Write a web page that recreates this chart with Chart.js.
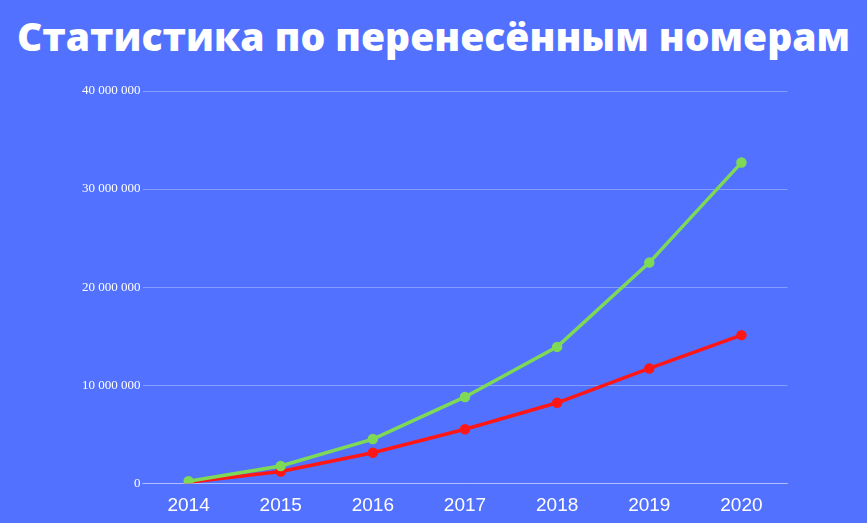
<!DOCTYPE html>
<html lang="ru">
<head>
<meta charset="UTF-8">
<title>Статистика по перенесённым номерам</title>
<script src="https://cdn.jsdelivr.net/npm/chart.js"></script>
<style>
  html, body { margin: 0; padding: 0; background: #5271ff; }
  body { width: 867px; height: 523px; overflow: hidden; }
  h1 { margin: 0; height: 72px; line-height: 72px; text-align: center; color: #fff;
       font-family: "Open Sans", sans-serif; font-weight: 800; font-size: 39px; }
  .box { position: absolute; left: 0; top: 72px; width: 795px; height: 448px; }
</style>
</head>
<body>
<h1>Статистика по перенесённым номерам</h1>
<div class="box"><canvas id="c"></canvas></div>
<script>
const years = ['2014', '2015', '2016', '2017', '2018', '2019', '2020'];
const greenValues = [200000, 1750000, 4500000, 8800000, 13900000, 22500000, 32700000];
const redValues = [100000, 1200000, 3100000, 5500000, 8200000, 11700000, 15100000];
const yTicks = [0, 10000000, 20000000, 30000000, 40000000];

const fmt = v => v === 0 ? '0' : v.toLocaleString('ru-RU').replace(/\s/g, ' ');

new Chart(document.getElementById('c'), {
  type: 'line',
  data: {
    labels: years,
    datasets: [
      { data: greenValues, borderColor: '#7ed957', backgroundColor: '#7ed957', borderWidth: 3.5, pointRadius: 3.5 },
      { data: redValues, borderColor: '#ff1616', backgroundColor: '#ff1616', borderWidth: 3.5, pointRadius: 3.5 }
    ]
  },
  options: {
    responsive: true,
    maintainAspectRatio: false,
    animation: false,
    layout: { padding: { left: 80, top: 19, bottom: 0 } },
    plugins: { legend: { display: false }, tooltip: { enabled: false } },
    scales: {
      x: {
        offset: true,
        grid: { display: false },
        border: { color: 'rgba(255,255,255,0.35)' },
        ticks: { color: '#fff', font: { family: 'Liberation Sans', size: 19 } }
      },
      y: {
        min: 0, max: 40000000,
        afterBuildTicks: s => { s.ticks = yTicks.map(v => ({ value: v })); },
        grid: { color: 'rgba(255,255,255,0.3)', drawTicks: false },
        border: { display: false },
        ticks: { color: '#fff', padding: 2, callback: v => fmt(v),
                 font: { family: 'Liberation Serif', size: 13 } }
      }
    }
  }
});
</script>
</body>
</html>
